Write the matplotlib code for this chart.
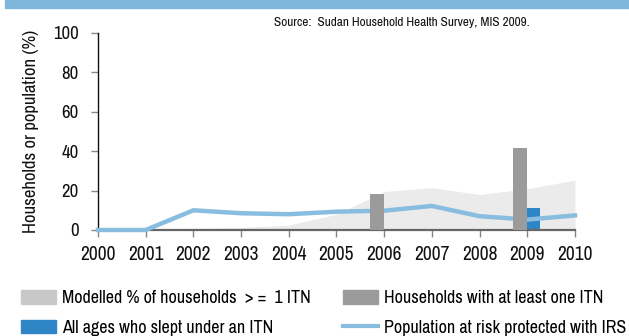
import matplotlib
matplotlib.use("Agg")
import matplotlib.pyplot as plt
from matplotlib.patches import Patch, Rectangle
from matplotlib.lines import Line2D

plt.rcParams['font.family'] = ['Archivo Narrow', 'DejaVu Sans']

years = [2000, 2001, 2002, 2003, 2004, 2005, 2006, 2007, 2008, 2009, 2010]
modelled_itn = [0, 0, 0.8, 1.2, 2.5, 8, 19.5, 21.5, 18, 21, 25.3]
irs_protected = [0, 0, 10, 8.5, 8, 9.3, 9.8, 12.2, 7, 5.3, 7.4]
hh_itn_years = [2006, 2009]
hh_itn = [18.3, 41.5]
slept_itn_years = [2009]
slept_itn = [11.1]

fig = plt.figure(figsize=(6.29, 3.36), dpi=100)
ax = fig.add_axes([0.1558, 0.3155, 0.7583, 0.5863])

# banner at the top
fig.patches.append(Rectangle((5/629, 1 - 8/336), 1, 8/336, transform=fig.transFigure,
                             color='#7fb7dc', zorder=0))

ax.fill_between(years, modelled_itn, color='#ebebeb', lw=0, zorder=1)
ax.bar(slept_itn_years, slept_itn, width=0.27, align='edge', color='#2e86c6', zorder=2)
ax.plot(years, irs_protected, color='#88bde0', lw=3.2, zorder=3, clip_on=False,
        solid_joinstyle='round')
ax.bar(hh_itn_years, hh_itn, width=-0.29, align='edge', color='#9b9b9b', zorder=4)

ax.set_xlim(2000, 2010)
ax.set_ylim(0, 100)
ax.set_xticks(years)
ax.set_yticks([0, 20, 40, 60, 80, 100])
ax.tick_params(axis='both', colors='#888888', labelcolor='#111111', length=5, width=1)
ax.tick_params(axis='y', pad=9, labelsize=13.5)
ax.tick_params(axis='x', pad=6, labelsize=14)
for s in ['top', 'right']:
    ax.spines[s].set_visible(False)
ax.spines['left'].set_color('#111111')
ax.spines['left'].set_linewidth(1.0)
ax.spines['bottom'].set_color('#666666')
ax.spines['bottom'].set_linewidth(1.6)
ax.set_ylabel('Households or population (%)', fontsize=13.5, color='#111111', labelpad=10)

fig.text(0.8426, 0.918, 'Source:  Sudan Household Health Survey, MIS 2009.', fontsize=9.5,
         ha='right', va='bottom', color='#111111')

handles = [Patch(color='#c8c8c8'), Patch(color='#9b9b9b'),
           Patch(color='#2e86c6'), Line2D([], [], color='#88bde0', lw=3)]
labels = ['Modelled % of households  > =  1 ITN', 'Households with at least one ITN',
          'All ages who slept under an ITN', 'Population at risk protected with IRS']
order = [0, 2, 1, 3]
fig.legend([handles[i] for i in order], [labels[i] for i in order], ncol=2,
           loc='lower left', bbox_to_anchor=(0.022, -0.021), frameon=False,
           fontsize=13, handlelength=1.94, handleheight=0.75, handletextpad=0.33,
           columnspacing=1.8, labelspacing=0.75, borderaxespad=0)

fig.savefig('out.png', dpi=100)
